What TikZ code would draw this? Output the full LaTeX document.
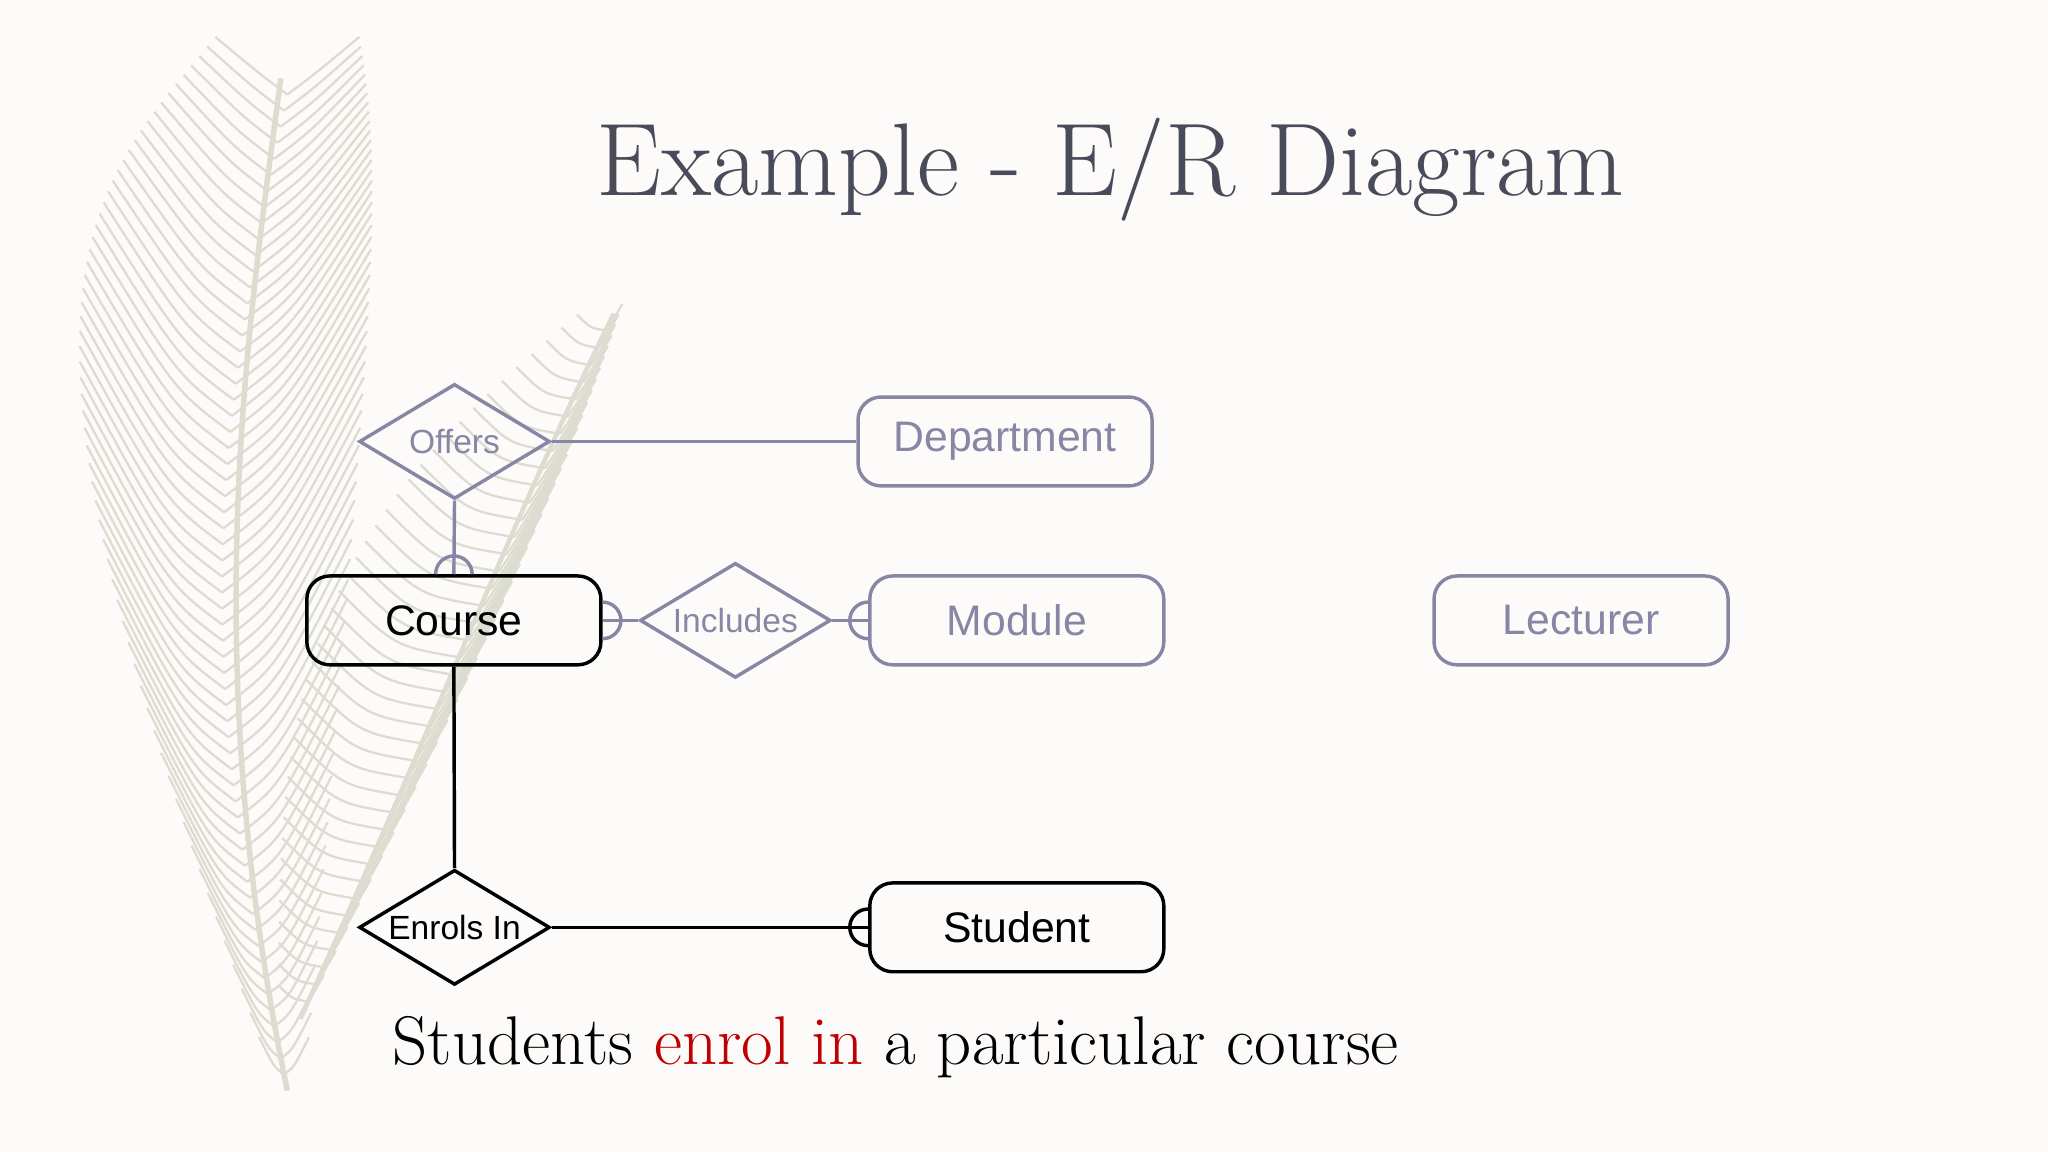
\documentclass[tikz,border=0pt]{standalone}
\usepackage{fontspec}
\newfontfamily\arialf{Liberation Sans}
\usetikzlibrary{shapes.geometric}
\definecolor{bg}{HTML}{FDFBF9}
\definecolor{pg}{HTML}{8A85A5}
\definecolor{tg}{HTML}{4A4B5A}
\definecolor{fe}{HTML}{DDDCD0}
\definecolor{rd}{HTML}{C00000}
\begin{document}
\begin{tikzpicture}[x=0.01cm,y=-0.01cm,
 ent/.style={draw,rounded corners=5pt,line width=0.75pt,font=\arialf\fontsize{9.3}{10}\selectfont},
 entB/.style={ent,draw=black,text=black,minimum width=2.25cm,minimum height=0.68cm},
 entP/.style={ent,draw=pg,text=pg,minimum width=2.25cm,minimum height=0.68cm},
 rel/.style={diamond,aspect=1.66,inner sep=0pt,minimum width=1.46cm,minimum height=0.88cm,line width=0.75pt,font=\arialf\fontsize{7.3}{8}\selectfont},
 relB/.style={rel,draw=black,text=black},
 relP/.style={rel,draw=pg,text=pg},
 lnB/.style={line width=0.75pt,black},
 lnP/.style={line width=0.75pt,pg}]
\fill[bg] (0,0) rectangle (1568,882);
\useasboundingbox (0,0) rectangle (1568,882);
% feathers
\begin{scope}[fe,line width=0.5pt]
\draw[line width=1.2pt] (220,835) .. controls (150,500) and (190,250) .. (215,60);
\foreach \i in {1,...,62}{
  \pgfmathsetmacro\yy{835-\i*12.3}
  \pgfmathsetmacro\xx{220-50*sin(180*\i/62)}
  \pgfmathsetmacro\w{15+95*sin(180*\i/72)}
  \pgfmathsetmacro\h{1.5-0.7*(\i/62)^3}
  \draw (\xx,\yy) .. controls (\xx-\w*0.4,\yy-\w*0.3) .. (\xx-\w,\yy-\w*\h);
  \draw (\xx,\yy) .. controls (\xx+\w*0.4,\yy-\w*0.3) .. (\xx+\w,\yy-\w*\h);
}
\draw[line width=1pt] (230,780) .. controls (330,560) and (400,380) .. (470,240);
\foreach \i in {1,...,40}{
  \pgfmathsetmacro\t{\i/41}
  \pgfmathsetmacro\xx{230+240*\t}
  \pgfmathsetmacro\yy{780-540*\t}
  \pgfmathsetmacro\w{15+70*sin(180*\t)}
  \draw (\xx,\yy) .. controls (\xx-\w*0.6,\yy-\w*0.1) .. (\xx-\w*1.1,\yy-\w*0.6);
  \draw (\xx,\yy) .. controls (\xx+\w*0.2,\yy-\w*0.3) .. (\xx+\w*0.6,\yy-\w*1.0);
}
\end{scope}
% title
\node[tg,anchor=base,font=\fontsize{22.5}{26}\selectfont] (title) at (850,150) {Example - E/R Diagram};
% nodes
\node[relP] (offers) at (348,338) {Offers};
\node[entP] (dept) at (769.5,338) {Department};
\node[entB] (course) at (347.5,475) {Course};
\node[relP] (incl) at (563,475) {Includes};
\node[entP] (module) at (778.5,475) {Module};
\node[entP] (lect) at (1210.5,475) {Lecturer};
\node[relB] (enrol) at (348,710) {Enrols In};
\node[entB] (student) at (778.5,710) {Student};
% connectors
\draw[lnP] (offers.east) -- (dept.west);
\draw[lnP] (offers.south) -- (course.north);
\draw[lnP] (course.east) -- (incl.west);
\draw[lnP] (incl.east) -- (module.west);
\draw[lnB] (course.south) -- (enrol.north);
\draw[lnB] (enrol.east) -- (student.west);
% half-circle markers
\draw[lnP] ([xshift=-0.14cm]course.north) arc[start angle=180,end angle=0,radius=0.14cm];
\draw[lnP] ([yshift=0.14cm]course.east) arc[start angle=90,end angle=-90,radius=0.14cm];
\draw[lnP] ([yshift=0.14cm]module.west) arc[start angle=90,end angle=270,radius=0.14cm];
\draw[lnB] ([yshift=0.14cm]student.west) arc[start angle=90,end angle=270,radius=0.14cm];
% caption
\node[anchor=base west,font=\fontsize{15}{18}\selectfont,inner sep=0pt] (cap) at (300,815) {Students \textcolor{rd}{enrol in} a particular course};
\end{tikzpicture}
\end{document}
